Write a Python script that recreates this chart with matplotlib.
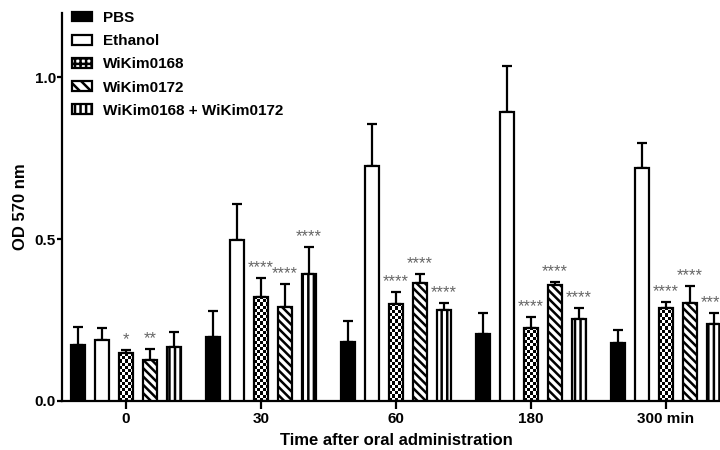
import numpy as np
import matplotlib
matplotlib.use("Agg")
import matplotlib.pyplot as plt
from matplotlib.patches import Patch

groups = ['0', '30', '60', '180', '300 min']
series = ['PBS', 'Ethanol', 'WiKim0168', 'WiKim0172', 'WiKim0168 + WiKim0172']

pbs = [0.173, 0.198, 0.183, 0.207, 0.179]
pbs_err = [0.056, 0.078, 0.062, 0.065, 0.041]
ethanol = [0.189, 0.498, 0.725, 0.892, 0.721]
ethanol_err = [0.037, 0.109, 0.132, 0.142, 0.075]
w0168 = [0.146, 0.322, 0.300, 0.226, 0.288]
w0168_err = [0.012, 0.059, 0.037, 0.034, 0.016]
w0172 = [0.127, 0.291, 0.365, 0.357, 0.303]
w0172_err = [0.034, 0.071, 0.028, 0.009, 0.053]
combo = [0.167, 0.393, 0.282, 0.253, 0.238]
combo_err = [0.047, 0.081, 0.021, 0.035, 0.034]

sig_0168 = ['*', '****', '****', '****', '****']
sig_0172 = ['**', '****', '****', '****', '****']
sig_combo = ['', '****', '****', '****', '****']

plt.rcParams['font.family'] = ['Liberation Sans', 'DejaVu Sans']
plt.rcParams['hatch.linewidth'] = 1.8

fig = plt.figure(figsize=(7.2, 4.5), dpi=100)
ax = fig.add_axes([62/720, 49.3/450, (730-62)/720, (401-13)/450])
ax.set_xlim(-0.474, 4.474)
ax.set_ylim(0, 1.2)

x = np.arange(len(groups))
step = 0.178
width = 0.11
offsets = (np.arange(5) - 2) * step

values = [pbs, ethanol, w0168, w0172, combo]
errs = [pbs_err, ethanol_err, w0168_err, w0172_err, combo_err]
faces = ['black', 'white', 'none', 'white', 'white']
hatches = [None, None, None, '\\\\\\\\', '|||']

fig.canvas.draw()
for i in range(5):
    xs = x + offsets[i]
    bars = ax.bar(xs, values[i], width, color=faces[i], edgecolor='black',
                  linewidth=1.6, hatch=hatches[i], zorder=3)
    ax.errorbar(xs, values[i], yerr=[np.zeros(5), errs[i]], fmt='none',
                ecolor='black', elinewidth=1.6, capsize=3.5, capthick=1.6, zorder=2)
    if i == 2:
        # checkerboard fill
        for b in bars:
            x0, y0 = b.get_x(), b.get_y()
            w, h = b.get_width(), b.get_height()
            p0 = ax.transData.transform((x0, y0))
            p1 = ax.transData.transform((x0 + w, y0 + h))
            cell = 3.2
            nx = max(1, int(round((p1[0] - p0[0]) / cell)))
            ny = max(1, int(round((p1[1] - p0[1]) / cell)))
            img = (np.add.outer(np.arange(ny), np.arange(nx)) % 2).astype(float)
            im = ax.imshow(img, cmap='gray', extent=[x0, x0 + w, y0, y0 + h],
                           interpolation='nearest', aspect='auto', zorder=2.5,
                           origin='lower')
            im.set_clip_path(b)

sigs = {2: sig_0168, 3: sig_0172, 4: sig_combo}
for i, s in sigs.items():
    for j in range(5):
        if s[j]:
            ax.text(x[j] + offsets[i], values[i][j] + errs[i][j] + 0.032, s[j],
                    ha='center', va='center', fontsize=12, color='#666666',
                    zorder=4)

for sp in ['top', 'right']:
    ax.spines[sp].set_visible(False)
for sp in ['left', 'bottom']:
    ax.spines[sp].set_linewidth(1.6)

ax.set_yticks([0, 0.5, 1.0])
ax.set_yticklabels(['0.0', '0.5', '1.0'])
ax.set_xticks(x)
ax.set_xticklabels(groups)
ax.tick_params(axis='y', length=3.5, width=1.6, pad=1, labelsize=11)
ax.tick_params(axis='x', length=6, width=1.6, pad=2, labelsize=11)
for lab in ax.get_xticklabels() + ax.get_yticklabels():
    lab.set_fontweight('bold')

ax.set_ylabel('OD 570 nm', fontsize=12, fontweight='bold', labelpad=5)
ax.set_xlabel('Time after oral administration', fontsize=12, fontweight='bold', labelpad=5)

handles = [
    Patch(facecolor='black', edgecolor='black', linewidth=1.6),
    Patch(facecolor='white', edgecolor='black', linewidth=1.6),
    Patch(facecolor='white', edgecolor='black', linewidth=1.6, hatch='+++'),
    Patch(facecolor='white', edgecolor='black', linewidth=1.6, hatch='\\\\\\'),
    Patch(facecolor='white', edgecolor='black', linewidth=1.6, hatch='|||'),
]
leg = fig.legend(handles, series, loc='upper left', bbox_to_anchor=(72/720, 439/450),
                 frameon=False, borderpad=0, borderaxespad=0, handlelength=1.3,
                 handleheight=0.6, handletextpad=0.75, labelspacing=0.6,
                 prop={'family': 'Liberation Sans', 'weight': 'bold', 'size': 11})

fig.savefig('out.png', dpi=100)
